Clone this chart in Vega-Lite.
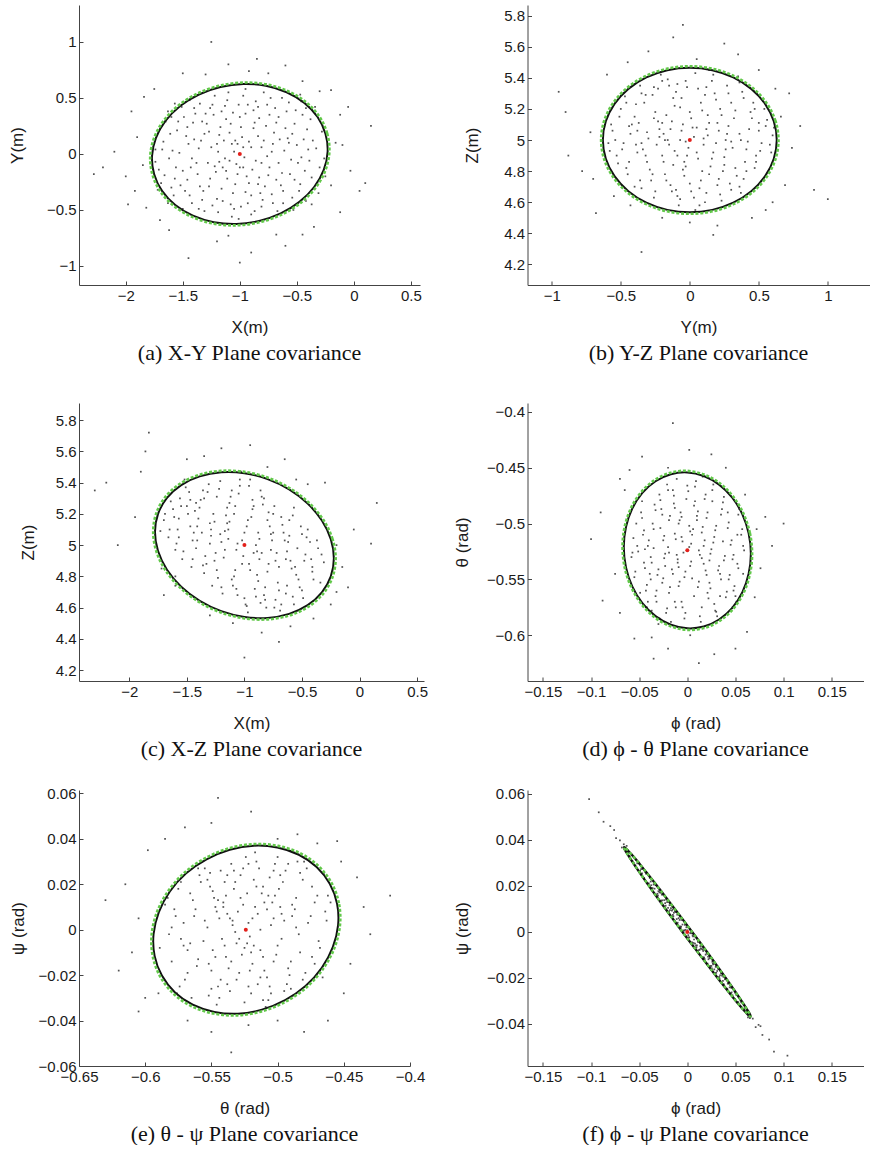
{
"$schema": "https://vega.github.io/schema/vega-lite/v6.json",
"padding": {"left": 8, "top": 5, "right": 0, "bottom": 0},
"background": "white",
"columns": 2,
"align": "each",
"spacing": {"row": 26, "column": 25.5},
"config": {
  "view": {"stroke": null},
  "axis": {"grid": false, "domainColor": "#444", "tickColor": "#444", "tickSize": -4, "labelPadding": 7, "labelFont": "Liberation Sans", "labelFontSize": 15, "labelColor": "#1a1a1a", "titleFont": "Liberation Sans", "titleFontSize": 17, "titleFontWeight": "normal", "titleColor": "#1a1a1a", "labelFlush": false, "labelOverlap": false, "labelBound": false, "format": "~g", "titlePadding": 16},
  "title": {"font": "Liberation Serif", "fontSize": 22, "fontWeight": "normal", "color": "#111", "orient": "bottom", "frame": "group", "anchor": "middle", "offset": 8, "subtitleFontSize": 8, "subtitlePadding": 4}
},
"datasets": {
"pa": [{"x":-1.05,"y":0.02},{"x":-0.92,"y":0.11},{"x":-1.18,"y":-0.07},{"x":-0.83,"y":-0.21},{"x":-1.31,"y":0.18},{"x":-0.71,"y":0.09},{"x":-1.12,"y":0.31},{"x":-0.95,"y":-0.34},{"x":-1.43,"y":-0.12},{"x":-0.64,"y":-0.28},{"x":-1.24,"y":0.44},{"x":-0.88,"y":0.39},{"x":-1.02,"y":-0.18},{"x":-0.77,"y":0.25},{"x":-1.36,"y":0.05},{"x":-0.58,"y":0.14},{"x":-1.55,"y":0.21},{"x":-0.49,"y":-0.08},{"x":-1.08,"y":-0.45},{"x":-0.81,"y":-0.47},{"x":-1.27,"y":-0.29},{"x":-0.69,"y":0.41},{"x":-1.48,"y":-0.33},{"x":-0.41,"y":0.22},{"x":-1.62,"y":-0.04},{"x":-0.97,"y":0.52},{"x":-1.19,"y":-0.52},{"x":-0.54,"y":-0.39},{"x":-1.39,"y":0.36},{"x":-0.74,"y":-0.12},{"x":-0.99,"y":0.24},{"x":-1.14,"y":0.12},{"x":-0.86,"y":-0.06},{"x":-1.21,"y":-0.16},{"x":-0.61,"y":0.03},{"x":-1.33,"y":-0.41},{"x":-0.45,"y":0.35},{"x":-1.51,"y":0.42},{"x":-0.37,"y":-0.21},{"x":-1.67,"y":0.11},{"x":-0.92,"y":-0.26},{"x":-1.06,"y":0.37},{"x":-0.79,"y":0.55},{"x":-1.29,"y":0.27},{"x":-0.67,"y":-0.51},{"x":-1.46,"y":-0.23},{"x":-0.52,"y":0.27},{"x":-1.58,"y":-0.37},{"x":-0.33,"y":0.05},{"x":-1.71,"y":-0.14},{"x":-1.01,"y":-0.58},{"x":-0.95,"y":0.58},{"x":-1.16,"y":-0.31},{"x":-0.84,"y":0.16},{"x":-1.25,"y":0.06},{"x":-0.72,"y":-0.36},{"x":-1.41,"y":0.28},{"x":-0.57,"y":0.46},{"x":-1.09,"y":0.19},{"x":-0.89,"y":-0.14},{"x":-1.03,"y":-0.09},{"x":-0.97,"y":0.06},{"x":-1.11,"y":-0.22},{"x":-0.76,"y":-0.02},{"x":-1.37,"y":-0.18},{"x":-0.63,"y":-0.17},{"x":-1.22,"y":0.52},{"x":-0.83,"y":0.32},{"x":-1.53,"y":0.01},{"x":-0.47,"y":-0.27},{"x":-1.31,"y":-0.51},{"x":-0.59,"y":0.38},{"x":-1.44,"y":0.48},{"x":-0.42,"y":-0.42},{"x":-1.65,"y":0.29},{"x":-0.3,"y":-0.12},{"x":-1.17,"y":0.24},{"x":-0.93,"y":-0.44},{"x":-1.06,"y":-0.35},{"x":-0.81,"y":0.06},{"x":-1.28,"y":-0.08},{"x":-0.7,"y":0.19},{"x":-1.5,"y":-0.49},{"x":-0.5,"y":0.08},{"x":-1.6,"y":0.33},{"x":-0.38,"y":0.31},{"x":-1.2,"y":-0.4},{"x":-0.86,"y":0.47},{"x":-1.13,"y":0.43},{"x":-0.9,"y":-0.54},{"x":-1.34,"y":0.12},{"x":-0.66,"y":-0.08},{"x":-1.42,"y":-0.04},{"x":-0.56,"y":-0.18},{"x":-1.0,"y":0.33},{"x":-1.04,"y":-0.27},{"x":-0.78,"y":-0.29},{"x":-1.26,"y":-0.22},{"x":-0.68,"y":0.28},{"x":-1.47,"y":0.16},{"x":-0.44,"y":0.13},{"x":-1.57,"y":-0.22},{"x":-0.35,"y":-0.31},{"x":-1.69,"y":-0.26},{"x":-0.28,"y":0.2},{"x":-0.96,"y":-0.03},{"x":-1.07,"y":0.09},{"x":-0.88,"y":0.23},{"x":-1.15,"y":-0.12},{"x":-0.74,"y":0.35},{"x":-1.35,"y":-0.29},{"x":-0.62,"y":-0.44},{"x":-1.23,"y":0.35},{"x":-0.8,"y":-0.41},{"x":-1.1,"y":0.55},{"x":-0.99,"y":-0.47},{"x":-1.4,"y":0.41},{"x":-0.53,"y":-0.5},{"x":-1.63,"y":-0.44},{"x":-0.46,"y":0.47},{"x":-1.74,"y":0.04},{"x":-0.26,"y":-0.04},{"x":-2.1,"y":0.02},{"x":-2.28,"y":-0.18},{"x":-1.95,"y":0.38},{"x":-1.92,"y":-0.33},{"x":-1.84,"y":0.51},{"x":-1.82,"y":-0.48},{"x":-1.3,"y":0.71},{"x":-1.1,"y":0.8},{"x":-0.85,"y":0.85},{"x":-0.6,"y":0.79},{"x":-0.45,"y":0.65},{"x":-0.2,"y":0.57},{"x":-0.05,"y":0.42},{"x":0.15,"y":0.25},{"x":0.05,"y":-0.33},{"x":-0.12,"y":-0.52},{"x":-0.2,"y":-0.28},{"x":-0.35,"y":-0.65},{"x":-0.6,"y":-0.82},{"x":-0.9,"y":-0.88},{"x":-1.2,"y":-0.78},{"x":-1.45,"y":-0.93},{"x":-1.62,"y":-0.68},{"x":-1.7,"y":-0.59},{"x":0.1,"y":-0.26},{"x":-0.16,"y":0.1},{"x":-2.0,"y":-0.2},{"x":-1.25,"y":1.0},{"x":-1.0,"y":-0.97},{"x":-0.68,"y":-0.72},{"x":-1.9,"y":0.15},{"x":-0.92,"y":0.74},{"x":-0.1,"y":0.08},{"x":-1.85,"y":-0.1},
{"x":-0.98,"y":0.15},{"x":-1.13,"y":-0.04},{"x":-0.87,"y":0.28},{"x":-1.2,"y":0.09},{"x":-0.75,"y":-0.19},{"x":-1.32,"y":-0.33},{"x":-0.66,"y":0.33},{"x":-1.45,"y":0.09},{"x":-0.55,"y":-0.05},{"x":-1.52,"y":-0.28},{"x":-0.43,"y":-0.15},{"x":-1.61,"y":0.18},{"x":-0.36,"y":0.12},{"x":-1.66,"y":-0.19},{"x":-0.32,"y":-0.26},{"x":-1.01,"y":0.44},{"x":-1.05,"y":-0.49},{"x":-0.9,"y":0.06},{"x":-1.08,"y":0.27},{"x":-0.94,"y":-0.2},{"x":-1.16,"y":0.38},{"x":-0.82,"y":-0.35},{"x":-1.27,"y":0.2},{"x":-0.71,"y":-0.44},{"x":-1.38,"y":-0.08},{"x":-0.6,"y":0.23},{"x":-1.49,"y":0.33},{"x":-0.48,"y":-0.33},{"x":-1.56,"y":-0.12},{"x":-0.4,"y":0.04},{"x":-1.0,"y":-0.12},{"x":-1.19,"y":0.02},{"x":-0.84,"y":0.42},{"x":-1.24,"y":-0.46},{"x":-0.73,"y":0.5},{"x":-1.35,"y":0.45},{"x":-0.62,"y":-0.33},{"x":-1.42,"y":-0.44},{"x":-0.51,"y":0.39},{"x":-1.59,"y":0.03},{"x":-0.39,"y":-0.06},{"x":-1.7,"y":0.22},{"x":-0.29,"y":0.31},{"x":-1.04,"y":0.12},{"x":-0.9,"y":-0.37},{"x":-1.12,"y":-0.15},{"x":-0.79,"y":0.12},{"x":-1.3,"y":0.36},{"x":-0.68,"y":-0.23},{"x":-1.4,"y":0.13},{"x":-0.57,"y":0.1},{"x":-1.5,"y":-0.15},{"x":-0.46,"y":-0.03},{"x":-1.63,"y":0.38},{"x":-0.34,"y":0.42},{"x":-1.72,"y":-0.32},{"x":-0.25,"y":-0.2},{"x":-1.07,"y":-0.56},{"x":-0.97,"y":-0.12},{"x":-1.11,"y":0.48},{"x":-0.87,"y":-0.51},{"x":-1.22,"y":-0.11},{"x":-0.76,"y":0.44},{"x":-1.33,"y":0.29},{"x":-0.65,"y":0.13},{"x":-1.44,"y":-0.37},{"x":-0.54,"y":0.18},{"x":-1.54,"y":0.29},{"x":-0.42,"y":0.41},{"x":-1.6,"y":-0.3},{"x":-0.31,"y":-0.35},{"x":-1.68,"y":0.04},{"x":-0.95,"y":0.36},{"x":-1.09,"y":-0.06},{"x":-0.84,"y":-0.27},{"x":-1.18,"y":0.17},{"x":-0.72,"y":0.02},{"x":-1.26,"y":0.41},{"x":-0.63,"y":0.5},{"x":-1.36,"y":-0.49},{"x":-0.52,"y":-0.23},{"x":-1.46,"y":0.24},{"x":-0.47,"y":0.53},{"x":-1.57,"y":0.45},{"x":-0.37,"y":-0.45},{"x":-1.74,"y":-0.07},{"x":-1.02,"y":0.09},{"x":-0.93,"y":0.44},{"x":-1.15,"y":-0.42},{"x":-0.81,"y":-0.08},{"x":-2.2,"y":-0.12},{"x":-1.98,"y":-0.45},{"x":-1.75,"y":0.58},{"x":-0.3,"y":0.56},{"x":-0.12,"y":0.35},{"x":-0.03,"y":-0.15},{"x":-0.45,"y":-0.72},{"x":-1.5,"y":0.72},{"x":-0.75,"y":0.72},{"x":-1.1,"y":-0.73}],
"ea": [{"i":0,"x":-0.23,"y":0.02},{"i":1,"x":-0.249,"y":0.181},{"i":2,"x":-0.318,"y":0.33},{"i":3,"x":-0.434,"y":0.456},{"i":4,"x":-0.589,"y":0.551},{"i":5,"x":-0.772,"y":0.609},{"i":6,"x":-0.97,"y":0.625},{"i":7,"x":-1.17,"y":0.598},{"i":8,"x":-1.359,"y":0.531},{"i":9,"x":-1.523,"y":0.428},{"i":10,"x":-1.652,"y":0.295},{"i":11,"x":-1.736,"y":0.142},{"i":12,"x":-1.77,"y":-0.02},{"i":13,"x":-1.751,"y":-0.181},{"i":14,"x":-1.682,"y":-0.33},{"i":15,"x":-1.566,"y":-0.456},{"i":16,"x":-1.411,"y":-0.551},{"i":17,"x":-1.228,"y":-0.609},{"i":18,"x":-1.03,"y":-0.625},{"i":19,"x":-0.83,"y":-0.598},{"i":20,"x":-0.641,"y":-0.531},{"i":21,"x":-0.477,"y":-0.428},{"i":22,"x":-0.348,"y":-0.295},{"i":23,"x":-0.264,"y":-0.142}],
"ga": [{"i":0,"x":-0.2146,"y":0.0204},{"i":1,"x":-0.234,"y":0.1846},{"i":2,"x":-0.3044,"y":0.3366},{"i":3,"x":-0.4227,"y":0.4651},{"i":4,"x":-0.5808,"y":0.562},{"i":5,"x":-0.7674,"y":0.6212},{"i":6,"x":-0.9694,"y":0.6375},{"i":7,"x":-1.1734,"y":0.61},{"i":8,"x":-1.3662,"y":0.5416},{"i":9,"x":-1.5335,"y":0.4366},{"i":10,"x":-1.665,"y":0.3009},{"i":11,"x":-1.7507,"y":0.1448},{"i":12,"x":-1.7854,"y":-0.0204},{"i":13,"x":-1.766,"y":-0.1846},{"i":14,"x":-1.6956,"y":-0.3366},{"i":15,"x":-1.5773,"y":-0.4651},{"i":16,"x":-1.4192,"y":-0.562},{"i":17,"x":-1.2326,"y":-0.6212},{"i":18,"x":-1.0306,"y":-0.6375},{"i":19,"x":-0.8266,"y":-0.61},{"i":20,"x":-0.6338,"y":-0.5416},{"i":21,"x":-0.4665,"y":-0.4366},{"i":22,"x":-0.335,"y":-0.3009},{"i":23,"x":-0.2493,"y":-0.1448}],
"pb": [{"x":0.03,"y":5.02},{"x":-0.11,"y":4.93},{"x":0.14,"y":5.11},{"x":-0.22,"y":5.07},{"x":0.25,"y":4.89},{"x":-0.07,"y":5.21},{"x":0.19,"y":5.26},{"x":-0.31,"y":4.86},{"x":0.36,"y":5.04},{"x":-0.18,"y":4.78},{"x":0.08,"y":4.74},{"x":-0.4,"y":5.15},{"x":0.44,"y":5.18},{"x":-0.27,"y":5.29},{"x":0.29,"y":4.72},{"x":-0.48,"y":4.98},{"x":0.51,"y":4.93},{"x":-0.02,"y":5.34},{"x":0.12,"y":4.66},{"x":-0.35,"y":4.69},{"x":0.38,"y":5.31},{"x":-0.13,"y":5.12},{"x":0.06,"y":4.88},{"x":-0.24,"y":4.97},{"x":0.21,"y":5.06},{"x":-0.05,"y":4.81},{"x":0.32,"y":5.14},{"x":-0.43,"y":5.04},{"x":0.47,"y":4.82},{"x":-0.16,"y":5.39},{"x":0.16,"y":5.38},{"x":-0.52,"y":4.85},{"x":0.55,"y":5.09},{"x":-0.09,"y":4.64},{"x":0.23,"y":4.61},{"x":-0.33,"y":5.24},{"x":0.01,"y":5.14},{"x":-0.2,"y":4.9},{"x":0.1,"y":4.97},{"x":-0.37,"y":5.11},{"x":0.42,"y":4.99},{"x":-0.28,"y":4.74},{"x":0.27,"y":5.35},{"x":-0.56,"y":5.06},{"x":0.58,"y":4.97},{"x":-0.06,"y":5.06},{"x":0.15,"y":4.83},{"x":-0.12,"y":5.27},{"x":0.34,"y":4.77},{"x":-0.45,"y":4.78},{"x":0.04,"y":5.43},{"x":-0.21,"y":5.42},{"x":0.2,"y":4.71},{"x":-0.38,"y":4.92},{"x":0.46,"y":5.24},{"x":-0.01,"y":4.95},{"x":0.09,"y":5.19},{"x":-0.3,"y":5.01},{"x":0.31,"y":4.95},{"x":-0.14,"y":4.71},{"x":0.13,"y":5.03},{"x":-0.25,"y":5.18},{"x":0.4,"y":4.86},{"x":-0.5,"y":5.2},{"x":0.5,"y":5.11},{"x":-0.08,"y":4.58},{"x":0.07,"y":4.58},{"x":-0.41,"y":4.64},{"x":0.37,"y":4.66},{"x":-0.19,"y":5.04},{"x":0.22,"y":5.2},{"x":-0.04,"y":4.86},{"x":0.17,"y":4.92},{"x":-0.34,"y":4.94},{"x":0.28,"y":5.09},{"x":-0.1,"y":5.31},{"x":0.0,"y":4.72},{"x":-0.47,"y":5.28},{"x":0.53,"y":5.25},{"x":-0.26,"y":4.63},{"x":0.24,"y":4.8},{"x":-0.58,"y":4.93},{"x":0.6,"y":5.03},{"x":-0.15,"y":4.97},{"x":0.11,"y":5.29},{"x":-0.36,"y":5.35},{"x":0.35,"y":5.41},{"x":-0.03,"y":4.99},{"x":0.05,"y":5.08},{"x":-0.17,"y":5.16},{"x":0.19,"y":4.98},{"x":-0.29,"y":4.81},{"x":0.43,"y":5.07},{"x":-0.54,"y":5.0},{"x":0.03,"y":4.63},{"x":-0.12,"y":4.84},{"x":0.26,"y":5.0},{"x":-0.23,"y":5.33},{"x":0.14,"y":5.45},{"x":-0.44,"y":4.86},{"x":0.48,"y":4.9},{"x":-0.39,"y":5.23},{"x":0.39,"y":4.75},{"x":-0.07,"y":5.0},{"x":0.09,"y":4.8},{"x":-0.2,"y":5.11},{"x":0.3,"y":5.24},{"x":-0.95,"y":5.31},{"x":-0.88,"y":4.9},{"x":-0.72,"y":5.05},{"x":-0.7,"y":4.75},{"x":-0.68,"y":4.53},{"x":-0.6,"y":5.42},{"x":-0.55,"y":4.64},{"x":-0.45,"y":5.5},{"x":-0.3,"y":5.57},{"x":-0.12,"y":5.66},{"x":0.05,"y":5.52},{"x":0.25,"y":5.62},{"x":0.35,"y":5.55},{"x":0.5,"y":5.45},{"x":0.62,"y":5.33},{"x":0.72,"y":5.3},{"x":0.8,"y":5.09},{"x":0.74,"y":4.95},{"x":0.69,"y":4.71},{"x":0.9,"y":4.68},{"x":1.0,"y":4.62},{"x":0.6,"y":4.6},{"x":0.45,"y":4.5},{"x":0.2,"y":4.45},{"x":0.0,"y":4.47},{"x":-0.35,"y":4.28},{"x":-0.2,"y":4.5},{"x":0.17,"y":4.39},{"x":-0.43,"y":4.58},{"x":0.66,"y":5.15},{"x":-0.9,"y":5.18},{"x":-0.78,"y":4.8},{"x":0.55,"y":4.55},{"x":-0.05,"y":5.74},
{"x":0.02,"y":5.08},{"x":-0.09,"y":4.9},{"x":0.13,"y":5.16},{"x":-0.23,"y":5.12},{"x":0.26,"y":4.94},{"x":-0.06,"y":5.27},{"x":0.18,"y":5.3},{"x":-0.32,"y":4.9},{"x":0.37,"y":5.0},{"x":-0.17,"y":4.74},{"x":0.07,"y":4.69},{"x":-0.42,"y":5.1},{"x":0.45,"y":5.14},{"x":-0.26,"y":5.34},{"x":0.3,"y":4.68},{"x":-0.49,"y":4.94},{"x":0.52,"y":4.98},{"x":-0.03,"y":5.38},{"x":0.11,"y":4.6},{"x":-0.36,"y":4.74},{"x":0.39,"y":5.27},{"x":-0.14,"y":5.07},{"x":0.05,"y":4.92},{"x":-0.22,"y":5.02},{"x":0.2,"y":5.11},{"x":-0.04,"y":4.77},{"x":0.33,"y":5.19},{"x":-0.44,"y":5.09},{"x":0.48,"y":4.86},{"x":-0.15,"y":5.35},{"x":0.17,"y":5.42},{"x":-0.53,"y":4.9},{"x":0.56,"y":5.13},{"x":-0.1,"y":4.68},{"x":0.22,"y":4.65},{"x":-0.32,"y":5.29},{"x":0.0,"y":5.18},{"x":-0.19,"y":4.86},{"x":0.1,"y":5.01},{"x":-0.38,"y":5.06},{"x":0.41,"y":4.94},{"x":-0.27,"y":4.78},{"x":0.28,"y":5.3},{"x":-0.57,"y":5.1},{"x":0.59,"y":4.92},{"x":-0.05,"y":5.1},{"x":0.14,"y":4.78},{"x":-0.11,"y":5.22},{"x":0.33,"y":4.82},{"x":-0.46,"y":4.82},{"x":0.06,"y":5.33},{"x":-0.2,"y":5.38},{"x":0.21,"y":4.75},{"x":-0.39,"y":4.97},{"x":0.47,"y":5.2},{"x":-0.02,"y":4.9},{"x":0.08,"y":5.24},{"x":-0.31,"y":5.05},{"x":0.3,"y":4.99},{"x":-0.13,"y":4.67},{"x":0.12,"y":5.07},{"x":-0.26,"y":5.14},{"x":0.41,"y":4.8},{"x":-0.51,"y":5.15},{"x":0.5,"y":5.06},{"x":-0.07,"y":4.62},{"x":0.04,"y":4.55},{"x":-0.4,"y":4.7},{"x":0.36,"y":4.7},{"x":-0.18,"y":5.0},{"x":0.23,"y":5.16},{"x":-0.03,"y":4.83},{"x":0.16,"y":4.88},{"x":-0.35,"y":4.98},{"x":0.27,"y":5.04},{"x":-0.09,"y":5.36},{"x":0.01,"y":4.67},{"x":-0.46,"y":5.24},{"x":0.54,"y":5.2},{"x":-0.25,"y":4.67},{"x":0.25,"y":4.84},{"x":-0.59,"y":4.98},{"x":0.61,"y":5.08},{"x":-0.16,"y":5.0},{"x":0.12,"y":5.34},{"x":-0.35,"y":5.3},{"x":0.36,"y":5.37}],
"eb": [{"i":0,"x":0.63,"y":5},{"i":1,"x":0.6085,"y":5.1203},{"i":2,"x":0.5456,"y":5.2325},{"i":3,"x":0.4455,"y":5.3288},{"i":4,"x":0.315,"y":5.4027},{"i":5,"x":0.163,"y":5.4491},{"i":6,"x":0,"y":5.465},{"i":7,"x":-0.163,"y":5.4491},{"i":8,"x":-0.315,"y":5.4027},{"i":9,"x":-0.4455,"y":5.3288},{"i":10,"x":-0.5456,"y":5.2325},{"i":11,"x":-0.6085,"y":5.1203},{"i":12,"x":-0.63,"y":5},{"i":13,"x":-0.6085,"y":4.8797},{"i":14,"x":-0.5456,"y":4.7675},{"i":15,"x":-0.4455,"y":4.6712},{"i":16,"x":-0.315,"y":4.5973},{"i":17,"x":-0.163,"y":4.5509},{"i":18,"x":0,"y":4.535},{"i":19,"x":0.163,"y":4.5509},{"i":20,"x":0.315,"y":4.5973},{"i":21,"x":0.4455,"y":4.6712},{"i":22,"x":0.5456,"y":4.7675},{"i":23,"x":0.6085,"y":4.8797}],
"gb": [{"i":0,"x":0.6426,"y":5},{"i":1,"x":0.6207,"y":5.1227},{"i":2,"x":0.5565,"y":5.2372},{"i":3,"x":0.4544,"y":5.3354},{"i":4,"x":0.3213,"y":5.4108},{"i":5,"x":0.1663,"y":5.4581},{"i":6,"x":0,"y":5.4743},{"i":7,"x":-0.1663,"y":5.4581},{"i":8,"x":-0.3213,"y":5.4108},{"i":9,"x":-0.4544,"y":5.3354},{"i":10,"x":-0.5565,"y":5.2372},{"i":11,"x":-0.6207,"y":5.1227},{"i":12,"x":-0.6426,"y":5},{"i":13,"x":-0.6207,"y":4.8773},{"i":14,"x":-0.5565,"y":4.7628},{"i":15,"x":-0.4544,"y":4.6646},{"i":16,"x":-0.3213,"y":4.5892},{"i":17,"x":-0.1663,"y":4.5419},{"i":18,"x":0,"y":4.5257},{"i":19,"x":0.1663,"y":4.5419},{"i":20,"x":0.3213,"y":4.5892},{"i":21,"x":0.4544,"y":4.6646},{"i":22,"x":0.5565,"y":4.7628},{"i":23,"x":0.6207,"y":4.8773}],
"pc": [{"x":-1.02,"y":5.03},{"x":-0.85,"y":4.95},{"x":-1.17,"y":5.09},{"x":-0.73,"y":4.9},{"x":-1.3,"y":5.14},{"x":-0.94,"y":5.18},{"x":-1.08,"y":4.84},{"x":-0.62,"y":5.02},{"x":-1.42,"y":4.98},{"x":-0.79,"y":5.21},{"x":-1.23,"y":4.79},{"x":-0.55,"y":4.81},{"x":-1.5,"y":5.25},{"x":-0.91,"y":4.72},{"x":-1.12,"y":5.31},{"x":-0.67,"y":5.13},{"x":-1.36,"y":5.35},{"x":-0.47,"y":4.94},{"x":-1.58,"y":5.1},{"x":-0.99,"y":4.62},{"x":-1.04,"y":5.38},{"x":-0.83,"y":4.68},{"x":-1.27,"y":5.2},{"x":-0.71,"y":4.76},{"x":-1.45,"y":5.03},{"x":-0.58,"y":5.19},{"x":-1.18,"y":4.92},{"x":-0.88,"y":5.08},{"x":-1.07,"y":4.97},{"x":-0.96,"y":4.88},{"x":-1.33,"y":4.88},{"x":-0.76,"y":5.03},{"x":-1.15,"y":5.24},{"x":-0.64,"y":4.69},{"x":-1.54,"y":4.91},{"x":-0.41,"y":4.86},{"x":-1.62,"y":5.23},{"x":-0.5,"y":5.07},{"x":-1.38,"y":5.29},{"x":-0.81,"y":4.6},{"x":-1.21,"y":5.41},{"x":-0.69,"y":4.58},{"x":-1.48,"y":5.34},{"x":-0.36,"y":4.98},{"x":-1.66,"y":5.05},{"x":-0.93,"y":5.29},{"x":-1.1,"y":4.74},{"x":-0.78,"y":5.12},{"x":-1.29,"y":5.06},{"x":-0.6,"y":4.9},{"x":-1.4,"y":5.17},{"x":-0.52,"y":4.73},{"x":-1.56,"y":5.3},{"x":-0.86,"y":5.35},{"x":-1.25,"y":4.95},{"x":-0.73,"y":4.65},{"x":-1.19,"y":4.69},{"x":-0.98,"y":5.12},{"x":-1.01,"y":4.93},{"x":-0.9,"y":5.0},{"x":-1.13,"y":5.15},{"x":-0.66,"y":5.08},{"x":-1.35,"y":4.82},{"x":-0.45,"y":5.1},{"x":-1.6,"y":4.97},{"x":-0.31,"y":4.89},{"x":-1.7,"y":5.16},{"x":-0.95,"y":5.42},{"x":-1.06,"y":4.68},{"x":-0.8,"y":4.83},{"x":-1.31,"y":5.39},{"x":-0.57,"y":4.62},{"x":-1.46,"y":4.86},{"x":-0.4,"y":4.78},{"x":-1.52,"y":5.42},{"x":-0.74,"y":5.25},{"x":-1.2,"y":5.02},{"x":-0.63,"y":4.96},{"x":-1.43,"y":5.22},{"x":-0.49,"y":4.66},{"x":-1.65,"y":5.33},{"x":-0.88,"y":4.77},{"x":-1.09,"y":5.2},{"x":-0.97,"y":4.57},{"x":-1.03,"y":5.47},{"x":-0.83,"y":5.3},{"x":-1.24,"y":5.31},{"x":-0.7,"y":4.86},{"x":-1.37,"y":5.08},{"x":-0.54,"y":4.98},{"x":-1.57,"y":5.17},{"x":-0.34,"y":4.76},{"x":-1.73,"y":5.09},{"x":-0.92,"y":4.95},{"x":-1.14,"y":5.04},{"x":-0.77,"y":4.97},{"x":-1.28,"y":4.74},{"x":-0.61,"y":5.16},{"x":-1.47,"y":5.12},{"x":-0.43,"y":5.02},{"x":-1.11,"y":5.35},{"x":-0.86,"y":4.63},{"x":-2.1,"y":5.0},{"x":-2.3,"y":5.35},{"x":-2.2,"y":5.4},{"x":-1.95,"y":5.18},{"x":-1.9,"y":5.47},{"x":-1.86,"y":5.6},{"x":-1.83,"y":5.72},{"x":-1.72,"y":4.85},{"x":-1.7,"y":4.68},{"x":-1.6,"y":4.74},{"x":-1.5,"y":5.55},{"x":-1.35,"y":5.57},{"x":-1.2,"y":5.62},{"x":-0.95,"y":5.64},{"x":-0.8,"y":5.5},{"x":-0.65,"y":5.55},{"x":-0.55,"y":5.42},{"x":-0.45,"y":5.39},{"x":-0.3,"y":5.4},{"x":-0.2,"y":5.0},{"x":-0.15,"y":4.86},{"x":-0.05,"y":5.1},{"x":0.1,"y":5.01},{"x":0.15,"y":5.27},{"x":-0.1,"y":4.73},{"x":-0.2,"y":4.7},{"x":-0.4,"y":4.53},{"x":-0.6,"y":4.48},{"x":-0.85,"y":4.44},{"x":-1.1,"y":4.5},{"x":-1.3,"y":4.55},{"x":-0.7,"y":4.38},{"x":-1.0,"y":4.28},{"x":-1.6,"y":4.8},{"x":-0.25,"y":4.62},
{"x":-1.0,"y":5.08},{"x":-0.87,"y":4.91},{"x":-1.15,"y":5.14},{"x":-0.72,"y":4.95},{"x":-1.29,"y":5.1},{"x":-0.93,"y":5.23},{"x":-1.09,"y":4.8},{"x":-0.61,"y":5.06},{"x":-1.41,"y":5.03},{"x":-0.8,"y":5.16},{"x":-1.24,"y":4.84},{"x":-0.56,"y":4.86},{"x":-1.49,"y":5.2},{"x":-0.9,"y":4.67},{"x":-1.13,"y":5.27},{"x":-0.68,"y":5.18},{"x":-1.35,"y":5.3},{"x":-0.48,"y":4.9},{"x":-1.57,"y":5.05},{"x":-1.0,"y":4.66},{"x":-1.05,"y":5.33},{"x":-0.82,"y":4.73},{"x":-1.26,"y":5.15},{"x":-0.7,"y":4.71},{"x":-1.44,"y":5.08},{"x":-0.57,"y":5.24},{"x":-1.17,"y":4.97},{"x":-0.87,"y":5.04},{"x":-1.06,"y":5.01},{"x":-0.95,"y":4.84},{"x":-1.34,"y":4.93},{"x":-0.75,"y":5.08},{"x":-1.16,"y":5.19},{"x":-0.63,"y":4.74},{"x":-1.53,"y":4.96},{"x":-0.42,"y":4.91},{"x":-1.61,"y":5.18},{"x":-0.51,"y":5.12},{"x":-1.39,"y":5.24},{"x":-0.82,"y":4.65},{"x":-1.22,"y":5.36},{"x":-0.68,"y":4.62},{"x":-1.47,"y":5.29},{"x":-0.37,"y":5.03},{"x":-1.65,"y":5.1},{"x":-0.92,"y":5.25},{"x":-1.11,"y":4.78},{"x":-0.77,"y":5.07},{"x":-1.3,"y":5.01},{"x":-0.59,"y":4.85},{"x":-1.41,"y":5.12},{"x":-0.53,"y":4.78},{"x":-1.55,"y":5.25},{"x":-0.85,"y":5.31},{"x":-1.26,"y":4.9},{"x":-0.74,"y":4.6},{"x":-1.2,"y":4.73},{"x":-0.97,"y":5.16},{"x":-1.02,"y":4.88},{"x":-0.89,"y":4.96},{"x":-1.14,"y":5.1},{"x":-0.65,"y":5.03},{"x":-1.36,"y":4.87},{"x":-0.46,"y":5.05},{"x":-1.59,"y":5.01},{"x":-0.33,"y":4.94},{"x":-1.69,"y":5.2},{"x":-0.96,"y":5.38},{"x":-1.07,"y":4.72},{"x":-0.79,"y":4.88},{"x":-1.32,"y":5.34},{"x":-0.58,"y":4.67},{"x":-1.45,"y":4.91},{"x":-0.41,"y":4.83},{"x":-1.51,"y":5.37},{"x":-0.75,"y":5.2},{"x":-1.21,"y":5.07},{"x":-0.64,"y":4.91},{"x":-1.42,"y":5.27},{"x":-0.5,"y":4.71},{"x":-1.64,"y":5.28},{"x":-0.89,"y":4.81},{"x":-1.08,"y":5.25},{"x":-0.98,"y":4.61},{"x":-1.04,"y":5.42},{"x":-0.84,"y":5.26}],
"ec": [{"i":0,"x":-0.223,"y":4.916},{"i":1,"x":-0.2495,"y":5.0379},{"i":2,"x":-0.3271,"y":5.1573},{"i":3,"x":-0.4506,"y":5.2659},{"i":4,"x":-0.6115,"y":5.3564},{"i":5,"x":-0.7989,"y":5.4226},{"i":6,"x":-1,"y":5.46},{"i":7,"x":-1.2011,"y":5.466},{"i":8,"x":-1.3885,"y":5.4404},{"i":9,"x":-1.5494,"y":5.3847},{"i":10,"x":-1.6729,"y":5.3027},{"i":11,"x":-1.7505,"y":5.2001},{"i":12,"x":-1.777,"y":5.084},{"i":13,"x":-1.7505,"y":4.9621},{"i":14,"x":-1.6729,"y":4.8427},{"i":15,"x":-1.5494,"y":4.7341},{"i":16,"x":-1.3885,"y":4.6436},{"i":17,"x":-1.2011,"y":4.5774},{"i":18,"x":-1,"y":4.54},{"i":19,"x":-0.7989,"y":4.534},{"i":20,"x":-0.6115,"y":4.5596},{"i":21,"x":-0.4506,"y":4.6153},{"i":22,"x":-0.3271,"y":4.6973},{"i":23,"x":-0.2495,"y":4.7999}],
"gc": [{"i":0,"x":-0.2075,"y":4.9143},{"i":1,"x":-0.2345,"y":5.0387},{"i":2,"x":-0.3136,"y":5.1604},{"i":3,"x":-0.4396,"y":5.2712},{"i":4,"x":-0.6037,"y":5.3635},{"i":5,"x":-0.7949,"y":5.4311},{"i":6,"x":-1,"y":5.4692},{"i":7,"x":-1.2051,"y":5.4753},{"i":8,"x":-1.3963,"y":5.4492},{"i":9,"x":-1.5604,"y":5.3924},{"i":10,"x":-1.6864,"y":5.3088},{"i":11,"x":-1.7655,"y":5.2041},{"i":12,"x":-1.7925,"y":5.0857},{"i":13,"x":-1.7655,"y":4.9613},{"i":14,"x":-1.6864,"y":4.8396},{"i":15,"x":-1.5604,"y":4.7288},{"i":16,"x":-1.3963,"y":4.6365},{"i":17,"x":-1.2051,"y":4.5689},{"i":18,"x":-1,"y":4.5308},{"i":19,"x":-0.7949,"y":4.5247},{"i":20,"x":-0.6037,"y":4.5508},{"i":21,"x":-0.4396,"y":4.6076},{"i":22,"x":-0.3136,"y":4.6912},{"i":23,"x":-0.2345,"y":4.7959}],
"pd": [{"x":0.002,"y":-0.521},{"x":-0.013,"y":-0.509},{"x":0.017,"y":-0.536},{"x":-0.024,"y":-0.531},{"x":0.028,"y":-0.512},{"x":-0.008,"y":-0.497},{"x":0.011,"y":-0.489},{"x":-0.031,"y":-0.546},{"x":0.035,"y":-0.55},{"x":-0.019,"y":-0.562},{"x":0.022,"y":-0.567},{"x":-0.04,"y":-0.515},{"x":0.043,"y":-0.499},{"x":-0.005,"y":-0.575},{"x":0.008,"y":-0.48},{"x":-0.027,"y":-0.487},{"x":0.031,"y":-0.583},{"x":-0.045,"y":-0.535},{"x":0.048,"y":-0.528},{"x":-0.015,"y":-0.47},{"x":0.019,"y":-0.474},{"x":-0.036,"y":-0.5},{"x":0.038,"y":-0.476},{"x":-0.022,"y":-0.58},{"x":0.014,"y":-0.588},{"x":-0.052,"y":-0.52},{"x":0.053,"y":-0.54},{"x":-0.002,"y":-0.543},{"x":0.006,"y":-0.505},{"x":-0.011,"y":-0.528},{"x":0.025,"y":-0.523},{"x":-0.033,"y":-0.565},{"x":0.041,"y":-0.561},{"x":-0.048,"y":-0.49},{"x":0.046,"y":-0.515},{"x":-0.018,"y":-0.493},{"x":0.0,"y":-0.466},{"x":-0.029,"y":-0.474},{"x":0.027,"y":-0.465},{"x":-0.055,"y":-0.548},{"x":0.057,"y":-0.505},{"x":-0.009,"y":-0.556},{"x":0.012,"y":-0.552},{"x":-0.038,"y":-0.53},{"x":0.033,"y":-0.538},{"x":-0.025,"y":-0.515},{"x":0.016,"y":-0.503},{"x":-0.043,"y":-0.56},{"x":0.051,"y":-0.57},{"x":-0.006,"y":-0.512},{"x":0.004,"y":-0.534},{"x":-0.016,"y":-0.541},{"x":0.021,"y":-0.49},{"x":-0.03,"y":-0.59},{"x":0.029,"y":-0.578},{"x":-0.058,"y":-0.53},{"x":0.059,"y":-0.524},{"x":-0.003,"y":-0.585},{"x":0.009,"y":-0.462},{"x":-0.021,"y":-0.465},{"x":0.036,"y":-0.487},{"x":-0.046,"y":-0.51},{"x":0.044,"y":-0.546},{"x":-0.012,"y":-0.575},{"x":0.018,"y":-0.515},{"x":-0.034,"y":-0.483},{"x":0.024,"y":-0.558},{"x":-0.05,"y":-0.567},{"x":0.054,"y":-0.487},{"x":-0.007,"y":-0.49},{"x":0.013,"y":-0.528},{"x":-0.02,"y":-0.521},{"x":0.03,"y":-0.502},{"x":-0.039,"y":-0.545},{"x":0.039,"y":-0.529},{"x":-0.026,"y":-0.553},{"x":0.003,"y":-0.507},{"x":-0.014,"y":-0.482},{"x":0.02,"y":-0.546},{"x":-0.042,"y":-0.575},{"x":0.049,"y":-0.556},{"x":-0.01,"y":-0.535},{"x":0.007,"y":-0.565},{"x":-0.028,"y":-0.504},{"x":0.034,"y":-0.565},{"x":-0.053,"y":-0.5},{"x":0.058,"y":-0.545},{"x":-0.001,"y":-0.478},{"x":0.015,"y":-0.575},{"x":-0.035,"y":-0.522},{"x":0.026,"y":-0.48},{"x":-0.047,"y":-0.48},{"x":0.042,"y":-0.49},{"x":-0.017,"y":-0.588},{"x":0.01,"y":-0.497},{"x":-0.023,"y":-0.538},{"x":0.023,"y":-0.533},{"x":-0.004,"y":-0.526},{"x":0.005,"y":-0.549},{"x":-0.032,"y":-0.56},{"x":0.037,"y":-0.516},{"x":-0.044,"y":-0.523},{"x":0.047,"y":-0.575},{"x":-0.056,"y":-0.513},{"x":0.052,"y":-0.51},{"x":-0.011,"y":-0.46},{"x":0.016,"y":-0.458},{"x":-0.037,"y":-0.578},{"x":-0.09,"y":-0.49},{"x":-0.1,"y":-0.514},{"x":-0.088,"y":-0.569},{"x":-0.07,"y":-0.58},{"x":-0.065,"y":-0.47},{"x":-0.06,"y":-0.452},{"x":-0.047,"y":-0.44},{"x":-0.02,"y":-0.45},{"x":-0.015,"y":-0.41},{"x":0.002,"y":-0.434},{"x":0.025,"y":-0.438},{"x":0.04,"y":-0.45},{"x":0.06,"y":-0.474},{"x":0.072,"y":-0.505},{"x":0.081,"y":-0.494},{"x":0.088,"y":-0.52},{"x":0.076,"y":-0.54},{"x":0.07,"y":-0.566},{"x":0.062,"y":-0.597},{"x":0.05,"y":-0.612},{"x":0.028,"y":-0.617},{"x":0.003,"y":-0.6},{"x":-0.02,"y":-0.612},{"x":-0.037,"y":-0.602},{"x":-0.055,"y":-0.603},{"x":-0.07,"y":-0.46},{"x":0.1,"y":-0.5},{"x":-0.035,"y":-0.621},{"x":0.012,"y":-0.625},{"x":-0.075,"y":-0.545},
{"x":0.004,"y":-0.518},{"x":-0.012,"y":-0.514},{"x":0.015,"y":-0.531},{"x":-0.023,"y":-0.527},{"x":0.027,"y":-0.517},{"x":-0.009,"y":-0.5},{"x":0.01,"y":-0.493},{"x":-0.03,"y":-0.541},{"x":0.034,"y":-0.545},{"x":-0.018,"y":-0.557},{"x":0.021,"y":-0.562},{"x":-0.041,"y":-0.52},{"x":0.042,"y":-0.504},{"x":-0.006,"y":-0.57},{"x":0.007,"y":-0.484},{"x":-0.026,"y":-0.492},{"x":0.03,"y":-0.579},{"x":-0.044,"y":-0.54},{"x":0.047,"y":-0.532},{"x":-0.014,"y":-0.475},{"x":0.018,"y":-0.478},{"x":-0.035,"y":-0.505},{"x":0.037,"y":-0.481},{"x":-0.021,"y":-0.576},{"x":0.013,"y":-0.583},{"x":-0.051,"y":-0.525},{"x":0.052,"y":-0.536},{"x":-0.003,"y":-0.548},{"x":0.005,"y":-0.51},{"x":-0.01,"y":-0.532},{"x":0.024,"y":-0.527},{"x":-0.032,"y":-0.57},{"x":0.04,"y":-0.566},{"x":-0.047,"y":-0.495},{"x":0.045,"y":-0.519},{"x":-0.019,"y":-0.497},{"x":0.001,"y":-0.471},{"x":-0.028,"y":-0.479},{"x":0.026,"y":-0.47},{"x":-0.054,"y":-0.543},{"x":0.056,"y":-0.51},{"x":-0.008,"y":-0.552},{"x":0.011,"y":-0.557},{"x":-0.037,"y":-0.535},{"x":0.032,"y":-0.542},{"x":-0.024,"y":-0.511},{"x":0.015,"y":-0.508},{"x":-0.042,"y":-0.555},{"x":0.05,"y":-0.565},{"x":-0.005,"y":-0.516},{"x":0.003,"y":-0.538},{"x":-0.015,"y":-0.545},{"x":0.02,"y":-0.495},{"x":-0.029,"y":-0.585},{"x":0.028,"y":-0.572},{"x":-0.057,"y":-0.526},{"x":0.058,"y":-0.52},{"x":-0.002,"y":-0.58},{"x":0.008,"y":-0.467},{"x":-0.02,"y":-0.47},{"x":0.035,"y":-0.492},{"x":-0.045,"y":-0.506},{"x":0.043,"y":-0.55},{"x":-0.013,"y":-0.57},{"x":0.017,"y":-0.52},{"x":-0.033,"y":-0.488},{"x":0.023,"y":-0.553},{"x":-0.049,"y":-0.562},{"x":0.053,"y":-0.492},{"x":-0.006,"y":-0.494},{"x":0.012,"y":-0.524},{"x":-0.019,"y":-0.526},{"x":0.029,"y":-0.506},{"x":-0.038,"y":-0.55},{"x":0.038,"y":-0.533},{"x":-0.025,"y":-0.549},{"x":0.002,"y":-0.502},{"x":-0.013,"y":-0.486},{"x":0.019,"y":-0.542},{"x":-0.041,"y":-0.57},{"x":0.048,"y":-0.56},{"x":-0.009,"y":-0.539}],
"ed": [{"i":0,"x":0.066,"y":-0.527},{"i":1,"x":0.0637,"y":-0.5088},{"i":2,"x":0.0572,"y":-0.4917},{"i":3,"x":0.0467,"y":-0.4767},{"i":4,"x":0.033,"y":-0.4651},{"i":5,"x":0.0171,"y":-0.4574},{"i":6,"x":0,"y":-0.4542},{"i":7,"x":-0.0171,"y":-0.4558},{"i":8,"x":-0.033,"y":-0.4621},{"i":9,"x":-0.0467,"y":-0.4725},{"i":10,"x":-0.0572,"y":-0.4865},{"i":11,"x":-0.0637,"y":-0.503},{"i":12,"x":-0.066,"y":-0.521},{"i":13,"x":-0.0637,"y":-0.5392},{"i":14,"x":-0.0572,"y":-0.5563},{"i":15,"x":-0.0467,"y":-0.5713},{"i":16,"x":-0.033,"y":-0.5829},{"i":17,"x":-0.0171,"y":-0.5906},{"i":18,"x":0,"y":-0.5938},{"i":19,"x":0.0171,"y":-0.5922},{"i":20,"x":0.033,"y":-0.5859},{"i":21,"x":0.0467,"y":-0.5755},{"i":22,"x":0.0572,"y":-0.5615},{"i":23,"x":0.0637,"y":-0.545}],
"gd": [{"i":0,"x":0.0673,"y":-0.5271},{"i":1,"x":0.065,"y":-0.5085},{"i":2,"x":0.0583,"y":-0.4911},{"i":3,"x":0.0476,"y":-0.4758},{"i":4,"x":0.0337,"y":-0.4639},{"i":5,"x":0.0174,"y":-0.4561},{"i":6,"x":0,"y":-0.4528},{"i":7,"x":-0.0174,"y":-0.4544},{"i":8,"x":-0.0337,"y":-0.4609},{"i":9,"x":-0.0476,"y":-0.4715},{"i":10,"x":-0.0583,"y":-0.4857},{"i":11,"x":-0.065,"y":-0.5026},{"i":12,"x":-0.0673,"y":-0.5209},{"i":13,"x":-0.065,"y":-0.5395},{"i":14,"x":-0.0583,"y":-0.5569},{"i":15,"x":-0.0476,"y":-0.5722},{"i":16,"x":-0.0337,"y":-0.5841},{"i":17,"x":-0.0174,"y":-0.5919},{"i":18,"x":0,"y":-0.5952},{"i":19,"x":0.0174,"y":-0.5936},{"i":20,"x":0.0337,"y":-0.5871},{"i":21,"x":0.0476,"y":-0.5765},{"i":22,"x":0.0583,"y":-0.5623},{"i":23,"x":0.065,"y":-0.5454}],
"pe": [{"x":-0.522,"y":0.003},{"x":-0.531,"y":-0.006},{"x":-0.508,"y":0.009},{"x":-0.541,"y":0.012},{"x":-0.497,"y":-0.004},{"x":-0.516,"y":0.019},{"x":-0.537,"y":-0.017},{"x":-0.486,"y":0.014},{"x":-0.555,"y":0.004},{"x":-0.528,"y":0.024},{"x":-0.513,"y":-0.021},{"x":-0.549,"y":-0.009},{"x":-0.475,"y":0.006},{"x":-0.566,"y":0.016},{"x":-0.503,"y":0.026},{"x":-0.535,"y":0.029},{"x":-0.52,"y":-0.028},{"x":-0.545,"y":-0.025},{"x":-0.49,"y":-0.014},{"x":-0.573,"y":-0.004},{"x":-0.468,"y":-0.008},{"x":-0.559,"y":0.024},{"x":-0.499,"y":0.018},{"x":-0.511,"y":-0.012},{"x":-0.526,"y":0.011},{"x":-0.532,"y":-0.001},{"x":-0.518,"y":-0.007},{"x":-0.544,"y":0.005},{"x":-0.505,"y":0.002},{"x":-0.561,"y":-0.016},{"x":-0.481,"y":0.022},{"x":-0.578,"y":0.009},{"x":-0.47,"y":0.015},{"x":-0.552,"y":-0.029},{"x":-0.493,"y":-0.024},{"x":-0.54,"y":0.021},{"x":-0.507,"y":-0.031},{"x":-0.524,"y":0.032},{"x":-0.515,"y":0.007},{"x":-0.548,"y":0.014},{"x":-0.484,"y":-0.002},{"x":-0.582,"y":-0.002},{"x":-0.463,"y":0.004},{"x":-0.57,"y":-0.022},{"x":-0.479,"y":-0.019},{"x":-0.557,"y":0.03},{"x":-0.492,"y":0.029},{"x":-0.529,"y":-0.019},{"x":-0.512,"y":0.016},{"x":-0.538,"y":0.007},{"x":-0.501,"y":-0.011},{"x":-0.563,"y":0.006},{"x":-0.487,"y":0.009},{"x":-0.575,"y":0.018},{"x":-0.472,"y":-0.015},{"x":-0.546,"y":-0.033},{"x":-0.509,"y":-0.034},{"x":-0.533,"y":0.018},{"x":-0.519,"y":-0.015},{"x":-0.527,"y":-0.011},{"x":-0.504,"y":0.012},{"x":-0.542,"y":-0.004},{"x":-0.495,"y":0.004},{"x":-0.568,"y":-0.009},{"x":-0.478,"y":0.027},{"x":-0.585,"y":0.011},{"x":-0.466,"y":-0.021},{"x":-0.553,"y":0.022},{"x":-0.5,"y":0.032},{"x":-0.536,"y":-0.027},{"x":-0.514,"y":0.027},{"x":-0.55,"y":-0.018},{"x":-0.488,"y":-0.029},{"x":-0.576,"y":-0.028},{"x":-0.46,"y":0.012},{"x":-0.534,"y":0.002},{"x":-0.521,"y":-0.003},{"x":-0.51,"y":-0.018},{"x":-0.547,"y":0.01},{"x":-0.496,"y":0.021},{"x":-0.56,"y":0.027},{"x":-0.483,"y":-0.01},{"x":-0.58,"y":-0.014},{"x":-0.474,"y":0.019},{"x":-0.565,"y":-0.03},{"x":-0.517,"y":0.034},{"x":-0.539,"y":-0.012},{"x":-0.506,"y":-0.025},{"x":-0.523,"y":0.016},{"x":-0.556,"y":-0.005},{"x":-0.491,"y":-0.02},{"x":-0.543,"y":0.026},{"x":-0.525,"y":-0.032},{"x":-0.498,"y":0.01},{"x":-0.571,"y":0.003},{"x":-0.465,"y":0.025},{"x":-0.589,"y":-0.008},{"x":-0.53,"y":0.008},{"x":-0.513,"y":0.0},{"x":-0.551,"y":0.019},{"x":-0.485,"y":0.03},{"x":-0.63,"y":0.013},{"x":-0.62,"y":-0.018},{"x":-0.615,"y":0.02},{"x":-0.6,"y":-0.03},{"x":-0.605,"y":-0.036},{"x":-0.598,"y":0.035},{"x":-0.585,"y":0.04},{"x":-0.57,"y":0.045},{"x":-0.55,"y":0.047},{"x":-0.545,"y":0.058},{"x":-0.52,"y":0.052},{"x":-0.5,"y":0.04},{"x":-0.485,"y":0.042},{"x":-0.47,"y":0.038},{"x":-0.452,"y":0.03},{"x":-0.44,"y":0.023},{"x":-0.435,"y":0.01},{"x":-0.43,"y":-0.002},{"x":-0.445,"y":-0.015},{"x":-0.45,"y":-0.028},{"x":-0.462,"y":-0.04},{"x":-0.48,"y":-0.045},{"x":-0.5,"y":-0.04},{"x":-0.522,"y":-0.042},{"x":-0.535,"y":-0.054},{"x":-0.55,"y":-0.045},{"x":-0.568,"y":-0.04},{"x":-0.59,"y":-0.028},{"x":-0.605,"y":0.005},{"x":-0.415,"y":0.015},{"x":-0.61,"y":-0.01},{"x":-0.455,"y":0.039},
{"x":-0.519,"y":0.005},{"x":-0.529,"y":-0.004},{"x":-0.51,"y":0.012},{"x":-0.539,"y":0.015},{"x":-0.5,"y":-0.007},{"x":-0.518,"y":0.022},{"x":-0.535,"y":-0.014},{"x":-0.489,"y":0.011},{"x":-0.553,"y":0.001},{"x":-0.526,"y":0.027},{"x":-0.515,"y":-0.024},{"x":-0.547,"y":-0.012},{"x":-0.477,"y":0.003},{"x":-0.564,"y":0.013},{"x":-0.506,"y":0.023},{"x":-0.533,"y":0.026},{"x":-0.522,"y":-0.025},{"x":-0.543,"y":-0.022},{"x":-0.492,"y":-0.017},{"x":-0.571,"y":-0.007},{"x":-0.469,"y":-0.005},{"x":-0.558,"y":0.021},{"x":-0.502,"y":0.015},{"x":-0.513,"y":-0.009},{"x":-0.528,"y":0.014},{"x":-0.534,"y":0.004},{"x":-0.52,"y":-0.01},{"x":-0.546,"y":0.008},{"x":-0.503,"y":0.005},{"x":-0.56,"y":-0.013},{"x":-0.483,"y":0.025},{"x":-0.577,"y":0.006},{"x":-0.472,"y":0.012},{"x":-0.55,"y":-0.026},{"x":-0.495,"y":-0.027},{"x":-0.538,"y":0.024},{"x":-0.505,"y":-0.028},{"x":-0.522,"y":0.029},{"x":-0.517,"y":0.01},{"x":-0.549,"y":0.017},{"x":-0.486,"y":0.001},{"x":-0.58,"y":0.001},{"x":-0.464,"y":0.008},{"x":-0.568,"y":-0.019},{"x":-0.481,"y":-0.022},{"x":-0.555,"y":0.027},{"x":-0.494,"y":0.026},{"x":-0.531,"y":-0.022},{"x":-0.511,"y":0.019},{"x":-0.541,"y":0.01},{"x":-0.503,"y":-0.014},{"x":-0.562,"y":0.009},{"x":-0.489,"y":0.006},{"x":-0.573,"y":0.021},{"x":-0.474,"y":-0.012},{"x":-0.544,"y":-0.03},{"x":-0.511,"y":-0.031},{"x":-0.532,"y":0.021},{"x":-0.521,"y":-0.018},{"x":-0.525,"y":-0.008},{"x":-0.507,"y":0.015},{"x":-0.54,"y":-0.007},{"x":-0.497,"y":0.007},{"x":-0.566,"y":-0.006},{"x":-0.48,"y":0.03},{"x":-0.583,"y":0.014},{"x":-0.468,"y":-0.018},{"x":-0.551,"y":0.025},{"x":-0.502,"y":0.029},{"x":-0.538,"y":-0.024},{"x":-0.516,"y":0.03},{"x":-0.552,"y":-0.015},{"x":-0.49,"y":-0.026},{"x":-0.574,"y":-0.025},{"x":-0.462,"y":0.015},{"x":-0.536,"y":0.005},{"x":-0.523,"y":-0.006},{"x":-0.508,"y":-0.021},{"x":-0.545,"y":0.013},{"x":-0.498,"y":0.024}],
"ee": [{"i":0,"x":-0.4543,"y":0.002},{"i":1,"x":-0.4551,"y":0.0115},{"i":2,"x":-0.4606,"y":0.0202},{"i":3,"x":-0.4705,"y":0.0276},{"i":4,"x":-0.4839,"y":0.033},{"i":5,"x":-0.5002,"y":0.0362},{"i":6,"x":-0.518,"y":0.037},{"i":7,"x":-0.5362,"y":0.0352},{"i":8,"x":-0.5537,"y":0.031},{"i":9,"x":-0.5691,"y":0.0248},{"i":10,"x":-0.5814,"y":0.0168},{"i":11,"x":-0.5897,"y":0.0077},{"i":12,"x":-0.5937,"y":-0.002},{"i":13,"x":-0.5929,"y":-0.0115},{"i":14,"x":-0.5874,"y":-0.0202},{"i":15,"x":-0.5775,"y":-0.0276},{"i":16,"x":-0.5641,"y":-0.033},{"i":17,"x":-0.5478,"y":-0.0362},{"i":18,"x":-0.53,"y":-0.037},{"i":19,"x":-0.5118,"y":-0.0352},{"i":20,"x":-0.4943,"y":-0.031},{"i":21,"x":-0.4789,"y":-0.0248},{"i":22,"x":-0.4666,"y":-0.0168},{"i":23,"x":-0.4583,"y":-0.0077}],
"ge": [{"i":0,"x":-0.4529,"y":0.002},{"i":1,"x":-0.4537,"y":0.0117},{"i":2,"x":-0.4593,"y":0.0206},{"i":3,"x":-0.4694,"y":0.0282},{"i":4,"x":-0.4831,"y":0.0337},{"i":5,"x":-0.4997,"y":0.0369},{"i":6,"x":-0.5179,"y":0.0377},{"i":7,"x":-0.5364,"y":0.0359},{"i":8,"x":-0.5543,"y":0.0316},{"i":9,"x":-0.57,"y":0.0253},{"i":10,"x":-0.5825,"y":0.0171},{"i":11,"x":-0.591,"y":0.0079},{"i":12,"x":-0.5951,"y":-0.002},{"i":13,"x":-0.5943,"y":-0.0117},{"i":14,"x":-0.5887,"y":-0.0206},{"i":15,"x":-0.5786,"y":-0.0282},{"i":16,"x":-0.5649,"y":-0.0337},{"i":17,"x":-0.5483,"y":-0.0369},{"i":18,"x":-0.5301,"y":-0.0377},{"i":19,"x":-0.5116,"y":-0.0359},{"i":20,"x":-0.4937,"y":-0.0316},{"i":21,"x":-0.478,"y":-0.0253},{"i":22,"x":-0.4655,"y":-0.0171},{"i":23,"x":-0.457,"y":-0.0079}],
"pf": [{"x":-0.058,"y":0.0336},{"x":-0.054,"y":0.0288},{"x":-0.05,"y":0.0301},{"x":-0.047,"y":0.0254},{"x":-0.044,"y":0.0262},{"x":-0.041,"y":0.021},{"x":-0.038,"y":0.0219},{"x":-0.036,"y":0.019},{"x":-0.033,"y":0.0203},{"x":-0.031,"y":0.0166},{"x":-0.029,"y":0.0173},{"x":-0.027,"y":0.0136},{"x":-0.025,"y":0.0162},{"x":-0.023,"y":0.0125},{"x":-0.021,"y":0.013},{"x":-0.019,"y":0.0088},{"x":-0.017,"y":0.0103},{"x":-0.015,"y":0.0074},{"x":-0.013,"y":0.0089},{"x":-0.011,"y":0.0056},{"x":-0.009,"y":0.006},{"x":-0.007,"y":0.0024},{"x":-0.005,"y":0.0032},{"x":-0.003,"y":0.0006},{"x":-0.001,"y":0.002},{"x":0.001,"y":-0.0014},{"x":0.003,"y":-0.0005},{"x":0.005,"y":-0.0045},{"x":0.007,"y":-0.0033},{"x":0.009,"y":-0.006},{"x":0.011,"y":-0.0043},{"x":0.013,"y":-0.0077},{"x":0.015,"y":-0.0074},{"x":0.017,"y":-0.011},{"x":0.019,"y":-0.0099},{"x":0.021,"y":-0.0138},{"x":0.023,"y":-0.0114},{"x":0.025,"y":-0.0148},{"x":0.027,"y":-0.0141},{"x":0.029,"y":-0.0179},{"x":0.031,"y":-0.017},{"x":0.033,"y":-0.0195},{"x":0.035,"y":-0.018},{"x":0.037,"y":-0.0213},{"x":0.039,"y":-0.0206},{"x":0.041,"y":-0.0248},{"x":0.044,"y":-0.0241},{"x":0.047,"y":-0.0276},{"x":0.05,"y":-0.0266},{"x":0.053,"y":-0.0305},{"x":0.056,"y":-0.0306},{"x":0.059,"y":-0.0336},{"x":-0.06,"y":0.0329},{"x":-0.052,"y":0.0298},{"x":-0.045,"y":0.0235},{"x":-0.039,"y":0.0235},{"x":-0.034,"y":0.0188},{"x":-0.03,"y":0.0177},{"x":-0.026,"y":0.0137},{"x":-0.022,"y":0.0141},{"x":-0.018,"y":0.0095},{"x":-0.014,"y":0.0083},{"x":-0.01,"y":0.004},{"x":-0.006,"y":0.0052},{"x":-0.002,"y":0.0009},{"x":0.0,"y":0.0007},{"x":0.002,"y":-0.0024},{"x":0.006,"y":-0.0019},{"x":0.01,"y":-0.0059},{"x":0.014,"y":-0.0071},{"x":0.018,"y":-0.0118},{"x":0.022,"y":-0.0119},{"x":0.026,"y":-0.013},{"x":0.03,"y":-0.0178},{"x":0.034,"y":-0.0189},{"x":0.038,"y":-0.0228},{"x":0.042,"y":-0.0225},{"x":0.046,"y":-0.0263},{"x":0.051,"y":-0.0275},{"x":0.055,"y":-0.0322},{"x":0.062,"y":-0.034},{"x":-0.048,"y":0.0273},{"x":-0.037,"y":0.0191},{"x":-0.028,"y":0.017},{"x":-0.02,"y":0.0104},{"x":-0.012,"y":0.0086},{"x":-0.004,"y":0.0006},{"x":0.004,"y":-0.0006},{"x":0.012,"y":-0.0079},{"x":0.02,"y":-0.0094},{"x":0.028,"y":-0.0163},{"x":0.036,"y":-0.019},{"x":0.045,"y":-0.0268},{"x":-0.016,"y":0.0092},{"x":-0.008,"y":0.0052},{"x":0.008,"y":-0.0051},{"x":0.016,"y":-0.0077},{"x":0.024,"y":-0.0148},{"x":-0.024,"y":0.0138},{"x":-0.032,"y":0.0162},{"x":0.032,"y":-0.0161},{"x":-0.066,"y":0.0381},{"x":-0.07,"y":0.0398},{"x":-0.074,"y":0.0408},{"x":-0.08,"y":0.046},{"x":-0.087,"y":0.0479},{"x":-0.092,"y":0.052},{"x":-0.102,"y":0.0577},{"x":-0.063,"y":0.0374},{"x":-0.068,"y":0.0367},{"x":0.065,"y":-0.0375},{"x":0.068,"y":-0.0377},{"x":0.071,"y":-0.0414},{"x":0.074,"y":-0.0404},{"x":0.078,"y":-0.0448},{"x":0.085,"y":-0.0468},{"x":0.09,"y":-0.0521},{"x":0.104,"y":-0.0538},{"x":0.063,"y":-0.0372},{"x":-0.076,"y":0.0443},{"x":0.076,"y":-0.041},
{"x":-0.057,"y":0.0308},{"x":-0.053,"y":0.0312},{"x":-0.049,"y":0.0266},{"x":-0.043,"y":0.0253},{"x":-0.04,"y":0.0211},{"x":-0.035,"y":0.0206},{"x":-0.0305,"y":0.0158},{"x":-0.0265,"y":0.0162},{"x":-0.0225,"y":0.0114},{"x":-0.0185,"y":0.0116},{"x":-0.0145,"y":0.0068},{"x":-0.0105,"y":0.0075},{"x":-0.0065,"y":0.0022},{"x":-0.0025,"y":0.0031},{"x":0.0015,"y":-0.0024},{"x":0.0055,"y":-0.0016},{"x":0.0095,"y":-0.0067},{"x":0.0135,"y":-0.0062},{"x":0.0175,"y":-0.0113},{"x":0.0215,"y":-0.0108},{"x":0.0255,"y":-0.0159},{"x":0.0295,"y":-0.0152},{"x":0.0335,"y":-0.0202},{"x":0.0375,"y":-0.0195},{"x":0.0415,"y":-0.0247},{"x":0.0455,"y":-0.0242},{"x":0.0495,"y":-0.0291},{"x":0.0535,"y":-0.0284},{"x":0.0575,"y":-0.0334},{"x":0.0605,"y":-0.0327},{"x":-0.0615,"y":0.0354},{"x":-0.0555,"y":0.0298},{"x":-0.0465,"y":0.0274},{"x":-0.0375,"y":0.0203},{"x":-0.0155,"y":0.0097},{"x":0.0065,"y":-0.0048},{"x":0.0165,"y":-0.0083},{"x":0.0265,"y":-0.0138}],
"ef": [{"i":0,"x":0.0655,"y":-0.0368},{"i":1,"x":0.0646,"y":-0.0355},{"i":2,"x":0.0592,"y":-0.0319},{"i":3,"x":0.0498,"y":-0.026},{"i":4,"x":0.0371,"y":-0.0184},{"i":5,"x":0.0218,"y":-0.0095},{"i":6,"x":0.005,"y":0},{"i":7,"x":-0.0122,"y":0.0095},{"i":8,"x":-0.0285,"y":0.0184},{"i":9,"x":-0.0428,"y":0.026},{"i":10,"x":-0.0542,"y":0.0319},{"i":11,"x":-0.062,"y":0.0355},{"i":12,"x":-0.0655,"y":0.0368},{"i":13,"x":-0.0646,"y":0.0355},{"i":14,"x":-0.0592,"y":0.0319},{"i":15,"x":-0.0498,"y":0.026},{"i":16,"x":-0.0371,"y":0.0184},{"i":17,"x":-0.0218,"y":0.0095},{"i":18,"x":-0.005,"y":0},{"i":19,"x":0.0122,"y":-0.0095},{"i":20,"x":0.0285,"y":-0.0184},{"i":21,"x":0.0428,"y":-0.026},{"i":22,"x":0.0542,"y":-0.0319},{"i":23,"x":0.062,"y":-0.0355}]
},
"concat": [
{
  "width": 341, "height": 280,
  "title": {"text": "(a) X-Y Plane covariance", "subtitle": " "},
  "encoding": {
    "x": {"field": "x", "type": "quantitative", "scale": {"domain": [-2.41, 0.58], "nice": false, "zero": false}, "axis": {"title": "X(m)", "values": [-2, -1.5, -1, -0.5, 0, 0.5]}},
    "y": {"field": "y", "type": "quantitative", "scale": {"domain": [-1.17, 1.33], "nice": false, "zero": false}, "axis": {"title": "Y(m)", "values": [-1, -0.5, 0, 0.5, 1], "titlePadding": 20}}
  },
  "layer": [
    {"data": {"name": "pa"}, "mark": {"type": "square", "size": 3, "color": "#404040", "opacity": 0.9}},
    {"data": {"name": "ea"}, "mark": {"type": "line", "interpolate": "cardinal-closed", "color": "#111", "strokeWidth": 2}, "encoding": {"order": {"field": "i", "type": "quantitative"}}},
    {"data": {"name": "ga"}, "mark": {"type": "line", "interpolate": "cardinal-closed", "color": "#62c84a", "strokeWidth": 2.6, "strokeDash": [3, 1.8]}, "encoding": {"order": {"field": "i", "type": "quantitative"}}},
    {"data": {"values": [{"x": -1, "y": 0}]}, "mark": {"type": "circle", "size": 16, "color": "#e3201b", "opacity": 1}}
  ]
},
{
  "width": 342, "height": 280,
  "title": {"text": "(b) Y-Z Plane covariance", "subtitle": " "},
  "encoding": {
    "x": {"field": "x", "type": "quantitative", "scale": {"domain": [-1.176, 1.302], "nice": false, "zero": false}, "axis": {"title": "Y(m)", "values": [-1, -0.5, 0, 0.5, 1]}},
    "y": {"field": "y", "type": "quantitative", "scale": {"domain": [4.068, 5.868], "nice": false, "zero": false}, "axis": {"title": "Z(m)", "values": [4.2, 4.4, 4.6, 4.8, 5, 5.2, 5.4, 5.6, 5.8], "titlePadding": 22}}
  },
  "layer": [
    {"data": {"name": "pb"}, "mark": {"type": "square", "size": 3, "color": "#404040", "opacity": 0.9}},
    {"data": {"name": "eb"}, "mark": {"type": "line", "interpolate": "cardinal-closed", "color": "#111", "strokeWidth": 2}, "encoding": {"order": {"field": "i", "type": "quantitative"}}},
    {"data": {"name": "gb"}, "mark": {"type": "line", "interpolate": "cardinal-closed", "color": "#62c84a", "strokeWidth": 2.6, "strokeDash": [3, 1.8]}, "encoding": {"order": {"field": "i", "type": "quantitative"}}},
    {"data": {"values": [{"x": 0, "y": 5}]}, "mark": {"type": "circle", "size": 16, "color": "#e3201b", "opacity": 1}}
  ]
},
{
  "width": 345, "height": 278,
  "title": {"text": "(c) X-Z Plane covariance"},
  "encoding": {
    "x": {"field": "x", "type": "quantitative", "scale": {"domain": [-2.437, 0.56], "nice": false, "zero": false}, "axis": {"title": "X(m)", "values": [-2, -1.5, -1, -0.5, 0, 0.5]}},
    "y": {"field": "y", "type": "quantitative", "scale": {"domain": [4.13, 5.91], "nice": false, "zero": false}, "axis": {"title": "Z(m)", "values": [4.2, 4.4, 4.6, 4.8, 5, 5.2, 5.4, 5.6, 5.8], "titlePadding": 18}}
  },
  "layer": [
    {"data": {"name": "pc"}, "mark": {"type": "square", "size": 3, "color": "#404040", "opacity": 0.9}},
    {"data": {"name": "ec"}, "mark": {"type": "line", "interpolate": "cardinal-closed", "color": "#111", "strokeWidth": 2}, "encoding": {"order": {"field": "i", "type": "quantitative"}}},
    {"data": {"name": "gc"}, "mark": {"type": "line", "interpolate": "cardinal-closed", "color": "#62c84a", "strokeWidth": 2.6, "strokeDash": [3, 1.8]}, "encoding": {"order": {"field": "i", "type": "quantitative"}}},
    {"data": {"values": [{"x": -1, "y": 5}]}, "mark": {"type": "circle", "size": 16, "color": "#e3201b", "opacity": 1}}
  ]
},
{
  "width": 336, "height": 278,
  "title": {"text": "(d) ϕ - θ Plane covariance"},
  "encoding": {
    "x": {"field": "x", "type": "quantitative", "scale": {"domain": [-0.166, 0.183], "nice": false, "zero": false}, "axis": {"title": "ϕ (rad)", "values": [-0.15, -0.1, -0.05, 0, 0.05, 0.1, 0.15]}},
    "y": {"field": "y", "type": "quantitative", "scale": {"domain": [-0.641, -0.392], "nice": false, "zero": false}, "axis": {"title": "θ (rad)", "values": [-0.6, -0.55, -0.5, -0.45, -0.4], "titlePadding": 15}}
  },
  "layer": [
    {"data": {"name": "pd"}, "mark": {"type": "square", "size": 3, "color": "#404040", "opacity": 0.9}},
    {"data": {"name": "ed"}, "mark": {"type": "line", "interpolate": "cardinal-closed", "color": "#111", "strokeWidth": 2}, "encoding": {"order": {"field": "i", "type": "quantitative"}}},
    {"data": {"name": "gd"}, "mark": {"type": "line", "interpolate": "cardinal-closed", "color": "#62c84a", "strokeWidth": 2.6, "strokeDash": [3, 1.8]}, "encoding": {"order": {"field": "i", "type": "quantitative"}}},
    {"data": {"values": [{"x": 0, "y": -0.524}]}, "mark": {"type": "circle", "size": 16, "color": "#e3201b", "opacity": 1}}
  ]
},
{
  "width": 331, "height": 276,
  "title": {"text": "(e) θ - ψ Plane covariance"},
  "encoding": {
    "x": {"field": "x", "type": "quantitative", "scale": {"domain": [-0.65, -0.4], "nice": false, "zero": false}, "axis": {"title": "θ (rad)", "values": [-0.65, -0.6, -0.55, -0.5, -0.45, -0.4]}},
    "y": {"field": "y", "type": "quantitative", "scale": {"domain": [-0.06, 0.0615], "nice": false, "zero": false}, "axis": {"title": "ψ  (rad)", "values": [-0.06, -0.04, -0.02, 0, 0.02, 0.04, 0.06], "titlePadding": 11}}
  },
  "layer": [
    {"data": {"name": "pe"}, "mark": {"type": "square", "size": 3, "color": "#404040", "opacity": 0.9}},
    {"data": {"name": "ee"}, "mark": {"type": "line", "interpolate": "cardinal-closed", "color": "#111", "strokeWidth": 2}, "encoding": {"order": {"field": "i", "type": "quantitative"}}},
    {"data": {"name": "ge"}, "mark": {"type": "line", "interpolate": "cardinal-closed", "color": "#62c84a", "strokeWidth": 2.6, "strokeDash": [3, 1.8]}, "encoding": {"order": {"field": "i", "type": "quantitative"}}},
    {"data": {"values": [{"x": -0.524, "y": 0}]}, "mark": {"type": "circle", "size": 16, "color": "#e3201b", "opacity": 1}}
  ]
},
{
  "width": 336, "height": 276,
  "title": {"text": "(f) ϕ - ψ Plane covariance"},
  "encoding": {
    "x": {"field": "x", "type": "quantitative", "scale": {"domain": [-0.166, 0.183], "nice": false, "zero": false}, "axis": {"title": "ϕ (rad)", "values": [-0.15, -0.1, -0.05, 0, 0.05, 0.1, 0.15]}},
    "y": {"field": "y", "type": "quantitative", "scale": {"domain": [-0.0583, 0.0617], "nice": false, "zero": false}, "axis": {"title": "ψ  (rad)", "values": [-0.04, -0.02, 0, 0.02, 0.04, 0.06], "titlePadding": 15}}
  },
  "layer": [
    {"data": {"name": "pf"}, "mark": {"type": "square", "size": 3, "color": "#404040", "opacity": 0.9}},
    {"data": {"name": "ef"}, "mark": {"type": "line", "interpolate": "cardinal-closed", "color": "#111", "strokeWidth": 2.4}, "encoding": {"order": {"field": "i", "type": "quantitative"}}},
    {"data": {"name": "ef"}, "mark": {"type": "line", "interpolate": "cardinal-closed", "color": "#62c84a", "strokeWidth": 2.4, "strokeDash": [3, 2.5]}, "encoding": {"order": {"field": "i", "type": "quantitative"}}},
    {"data": {"values": [{"x": 0, "y": 0}]}, "mark": {"type": "circle", "size": 16, "color": "#e3201b", "opacity": 1}}
  ]
}
]
}
